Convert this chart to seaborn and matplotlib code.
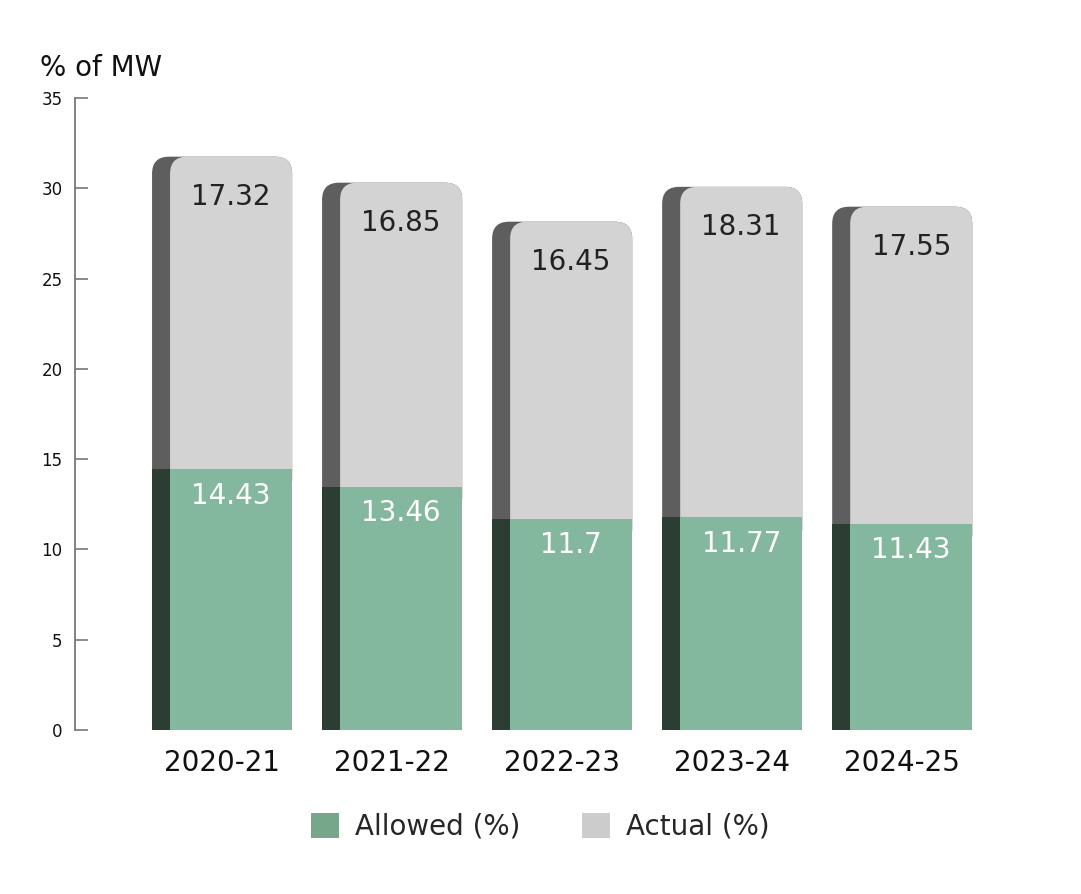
import pandas as pd
import matplotlib
matplotlib.use('Agg')
import matplotlib.pyplot as plt
import seaborn as sns
from matplotlib.patches import FancyBboxPatch, Rectangle, Patch

# chart data
years = ['2020-21', '2021-22', '2022-23', '2023-24', '2024-25']
allowed = [14.43, 13.46, 11.7, 11.77, 11.43]
actual = [17.32, 16.85, 16.45, 18.31, 17.55]
allowed_labels = ['14.43', '13.46', '11.7', '11.77', '11.43']
actual_labels = ['17.32', '16.85', '16.45', '18.31', '17.55']

df = pd.DataFrame({'year': years, 'allowed': allowed, 'actual': actual})
df['total'] = df['allowed'] + df['actual']

green_front = '#84b89e'
green_side = '#2c3d34'
grey_front = '#d3d3d3'
grey_side = '#5e5e5e'

sns.set_style('white')
plt.rcParams['font.family'] = ['DejaVu Sans']

fig = plt.figure(figsize=(10.81, 8.94), dpi=100)
ax = fig.add_axes([0.0694, 0.1834, 0.8596, 0.7070])

bar_w = 0.824
side_w = 0.106
x_per_px = 1 / 170
y_per_px = 35 / 632
aspect = y_per_px / x_per_px
rnd = 17 * x_per_px
hide = 1.5  # how far the grey box goes under the green part

# totals (grey part) drawn first, then replaced by rounded shapes
sns.barplot(data=df, x='year', y='total', width=bar_w, color=grey_side,
            ax=ax, saturation=1, errorbar=None, linewidth=0)
n_tot = len(ax.patches)
tot_patches = list(ax.patches)
for p, a in zip(tot_patches, df['allowed']):
    p.set_visible(False)
    x0, w, h = p.get_x(), p.get_width(), p.get_height()
    y0 = a - hide
    ax.add_patch(FancyBboxPatch((x0, y0), w, h - y0,
                                boxstyle=f'round,pad=0,rounding_size={rnd}',
                                mutation_aspect=aspect, fc=grey_side, ec='none', lw=0, zorder=0.5))
    ax.add_patch(FancyBboxPatch((x0 + side_w, y0), w - side_w, h - y0,
                                boxstyle=f'round,pad=0,rounding_size={rnd}',
                                mutation_aspect=aspect, fc=grey_front, ec='none', lw=0, zorder=0.6))

# allowed (green part)
sns.barplot(data=df, x='year', y='allowed', width=bar_w, color=green_side,
            ax=ax, saturation=1, errorbar=None, linewidth=0)
al_patches = [p for p in ax.patches if isinstance(p, Rectangle)][n_tot:]
for p in al_patches:
    p.set_zorder(1)
    p.set_edgecolor('none')
    x0, w, h = p.get_x(), p.get_width(), p.get_height()
    ax.add_patch(Rectangle((x0 + side_w, 0), w - side_w, h, fc=green_front,
                           ec='none', lw=0, zorder=1.1))

# value labels
for i, (pt, pa) in enumerate(zip(tot_patches, al_patches)):
    cx = pt.get_x() + side_w + (pt.get_width() - side_w) / 2
    ax.annotate(actual_labels[i], (cx, pt.get_height()), xytext=(0, -29),
                textcoords='offset points', ha='center', va='center',
                fontsize=20, color='#222222', zorder=3)
    ax.annotate(allowed_labels[i], (cx, pa.get_height()), xytext=(0, -19),
                textcoords='offset points', ha='center', va='center',
                fontsize=20, color='white', zorder=3)

ax.set_xlim(-0.865, 4.6)
ax.set_ylim(0, 35)
ax.set_yticks(range(0, 36, 5))
ax.set_xlabel('')
ax.set_ylabel('')
for s in ['top', 'right', 'bottom']:
    ax.spines[s].set_visible(False)
ax.spines['left'].set_color('#777777')
ax.spines['left'].set_linewidth(1.3)
ax.tick_params(axis='y', direction='in', length=9.5, width=1.2, color='#777777',
               labelsize=12, pad=9, labelcolor='#111111', left=True)
ax.tick_params(axis='x', length=0, labelsize=20, pad=14, labelcolor='#111111')

fig.text(0.037, 0.915, '% of MW', fontsize=20, color='#111111', va='baseline')

handles = [Patch(fc='#77a78b', ec='none', label='Allowed (%)'),
           Patch(fc='#cccccc', ec='none', label='Actual (%)')]
fig.legend(handles=handles, loc='center', bbox_to_anchor=(0.5, 0.075), ncol=2,
           frameon=False, fontsize=20, handlelength=1.0, handleheight=1.0,
           handletextpad=0.6, columnspacing=2.2)

fig.savefig('out.png', dpi=100)
